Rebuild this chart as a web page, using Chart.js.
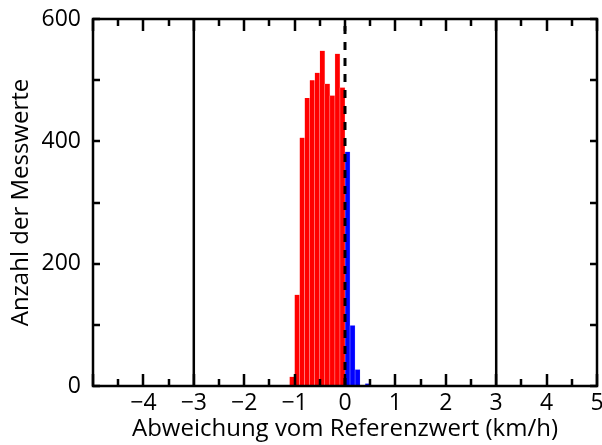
<!DOCTYPE html>
<html>
<head>
<meta charset="utf-8">
<script src="https://cdn.jsdelivr.net/npm/chart.js@4"></script>
<style>
  html, body { margin: 0; padding: 0; background: #fff; }
  #wrap { width: 602px; height: 445px; }
</style>
</head>
<body>
<div id="wrap"><canvas id="histChart"></canvas></div>
<script>
// bin centres (width 0.1 km/h) and counts
const redCenters = [-1.05, -0.95, -0.85, -0.75, -0.65, -0.55, -0.45, -0.35, -0.25, -0.15, -0.05];
const redCounts = [15, 149, 406, 471, 500, 512, 548, 494, 475, 543, 488];
const blueCenters = [0.05, 0.15, 0.25, 0.35, 0.45];
const blueCounts = [383, 99, 27, 0, 4];

// vertical reference lines
const limitLines = [-3, 3];
const zeroLine = 0;

const xMin = -5, xMax = 5;
const yMin = 0, yMax = 600;
const yLabelTicks = [0, 200, 400, 600];

const FONT = "'Open Sans', sans-serif";

function toPoints(xs, ys) {
  return xs.map((x, i) => ({ x: x, y: ys[i] }));
}

function vLine(x) {
  return [{ x: x, y: yMin }, { x: x, y: yMax }];
}

/* frame + inward ticks, drawn on top of the bars */
const frameTicks = {
  id: "frameTicks",
  afterDraw(chart) {
    const ctx = chart.ctx;
    const a = chart.chartArea;
    const xs = chart.scales.x;
    const ys = chart.scales.y;
    ctx.save();
    ctx.strokeStyle = "#000";
    ctx.lineWidth = 2.5;
    ctx.lineCap = "butt";
    // x ticks: major every 1, minor every 0.5
    for (let v = xMin; v <= xMax + 1e-9; v += 0.5) {
      const px = Math.round(xs.getPixelForValue(v));
      const len = Math.abs(v - Math.round(v)) < 1e-6 ? 12 : 7;
      ctx.beginPath();
      ctx.moveTo(px, a.bottom); ctx.lineTo(px, a.bottom - len);
      ctx.moveTo(px, a.top); ctx.lineTo(px, a.top + len);
      ctx.stroke();
    }
    // y ticks every 100
    for (let v = yMin; v <= yMax; v += 100) {
      const py = Math.round(ys.getPixelForValue(v));
      ctx.beginPath();
      ctx.moveTo(a.left, py); ctx.lineTo(a.left + 7, py);
      ctx.moveTo(a.right, py); ctx.lineTo(a.right - 7, py);
      ctx.stroke();
    }
    ctx.strokeRect(a.left, a.top, a.right - a.left, a.bottom - a.top);
    ctx.restore();
  }
};

const ctx = document.getElementById("histChart").getContext("2d");

new Chart(ctx, {
  type: "bar",
  data: {
    datasets: [
      {
        type: "line",
        data: vLine(zeroLine),
        borderColor: "#000",
        borderWidth: 3,
        borderDash: [8, 8],
        pointRadius: 0,
        order: 0
      },
      ...limitLines.map(x => ({
        type: "line",
        data: vLine(x),
        borderColor: "#000",
        borderWidth: 2.5,
        pointRadius: 0,
        order: 0
      })),
      {
        data: toPoints(redCenters, redCounts),
        backgroundColor: "#ff0000",
        borderColor: "rgba(255,190,190,0.9)",
        borderWidth: { left: 0.5, right: 0.5, top: 0, bottom: 0 },
        borderSkipped: false,
        barPercentage: 1,
        categoryPercentage: 1,
        grouped: false,
        order: 1
      },
      {
        data: toPoints(blueCenters, blueCounts),
        backgroundColor: "#0000ff",
        borderColor: "rgba(190,190,255,0.9)",
        borderWidth: { left: 0.5, right: 0.5, top: 0, bottom: 0 },
        borderSkipped: false,
        barPercentage: 1,
        categoryPercentage: 1,
        grouped: false,
        order: 1
      }
    ]
  },
  options: {
    responsive: true,
    maintainAspectRatio: false,
    animation: false,
    layout: { padding: { top: 19, right: 5, left: 0, bottom: 0 } },
    plugins: {
      legend: { display: false },
      tooltip: { enabled: false }
    },
    scales: {
      x: {
        type: "linear",
        min: xMin,
        max: xMax,
        offset: false,
        grid: { display: false, drawTicks: false },
        border: { display: false },
        ticks: {
          stepSize: 1,
          padding: 4,
          color: "#000",
          font: { family: FONT, size: 23 },
          maxRotation: 0,
          autoSkip: false,
          callback: v => (v === xMin ? "" : String(v).replace("-", "\u2212"))
        },
        title: {
          display: true,
          text: "Abweichung vom Referenzwert (km/h)",
          color: "#000",
          font: { family: FONT, size: 24 },
          padding: { top: 0, bottom: 1 }
        },
        afterFit(s) {
          s.height = 59;
          s.paddingLeft = 0;
          s.paddingRight = 0;
        }
      },
      y: {
        min: yMin,
        max: yMax,
        grid: { display: false, drawTicks: false },
        border: { display: false },
        afterBuildTicks(s) {
          s.ticks = yLabelTicks.map(v => ({ value: v }));
        },
        ticks: {
          padding: 12,
          color: "#000",
          font: { family: FONT, size: 23 }
        },
        title: {
          display: true,
          text: "Anzahl der Messwerte",
          color: "#000",
          font: { family: FONT, size: 24 },
          padding: { top: 7, bottom: 0 }
        },
        afterFit(s) {
          s.width = 93;
          s.paddingTop = 0;
          s.paddingBottom = 0;
        }
      }
    }
  },
  plugins: [frameTicks]
});
</script>
</body>
</html>
